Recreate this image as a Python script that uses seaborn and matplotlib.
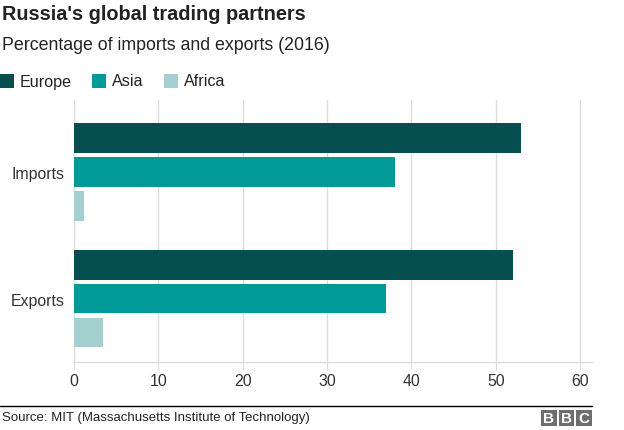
# Russia's global trading partners - BBC style horizontal grouped bars

import pandas as pd
import matplotlib.pyplot as plt
import seaborn as sns
from matplotlib.patches import Rectangle

# Data
flows = ["Imports", "Exports"]
regions = ["Europe", "Asia", "Africa"]
europe = [53, 52]
asia = [38, 37]
africa = [1.2, 3.4]
x_ticks = [0, 10, 20, 30, 40, 50, 60]

colors = {"Europe": "#064f51", "Asia": "#009b98", "Africa": "#a3cfcf"}

df = pd.DataFrame({
    "flow": flows * 3,
    "region": ["Europe"] * 2 + ["Asia"] * 2 + ["Africa"] * 2,
    "value": europe + asia + africa,
})

sns.set_style("white")
plt.rcParams["font.family"] = ["Liberation Sans", "DejaVu Sans"]

fig = plt.figure(figsize=(6.24, 4.31), dpi=100)
W, H = 624, 431
ax = fig.add_axes([74 / W, 1 - 363 / H, (592 - 74) / W, (363 - 101) / H])

sns.barplot(data=df, y="flow", x="value", hue="region", hue_order=regions,
            order=flows, palette=colors, orient="h", width=0.8, gap=0.12,
            linewidth=0, saturation=1, legend=False, ax=ax)

ax.set_xlim(0, 61.4)
ax.set_ylim(1.5, -0.567)
ax.set_xticks(x_ticks)
ax.set_xlabel("")
ax.set_ylabel("")
ax.xaxis.grid(True, color="#dddddd", lw=1)
ax.set_axisbelow(True)
for s in ["left", "right", "top"]:
    ax.spines[s].set_visible(False)
ax.spines["bottom"].set_color("#dddddd")
ax.spines["bottom"].set_linewidth(1)
ax.tick_params(axis="x", length=6, color="#dddddd", labelsize=11.4,
               labelcolor="#333333", pad=2, bottom=True)
ax.tick_params(axis="y", length=0, labelsize=11.4, labelcolor="#333333", pad=7)

# Title and subtitle
fig.text(2 / W, 1 - 5 / H, "Russia's global trading partners", fontsize=14.3,
         fontweight="bold", color="#222222", va="top", ha="left")
fig.text(2 / W, 1 - 37 / H, "Percentage of imports and exports (2016)",
         fontsize=12.8, color="#222222", va="top", ha="left")

# Legend
for px, name in zip([0, 92, 164], regions):
    fig.add_artist(Rectangle((px / W, 1 - 89 / H), 14 / W, 14 / H,
                             transform=fig.transFigure, color=colors[name], lw=0))
    fig.text((px + 20) / W, 1 - 82 / H, name, fontsize=11.6, color="#222222",
             va="center", ha="left")

# Footer
fig.add_artist(plt.Line2D([0, 592 / W], [1 - 406.5 / H] * 2,
                          transform=fig.transFigure, color="black", lw=1))
fig.text(2 / W, 1 - 418 / H, "Source: MIT (Massachusetts Institute of Technology)",
         fontsize=9.5, color="#222222", va="center", ha="left")
for i, ch in enumerate("BBC"):
    bx = 541 + i * 17.5
    fig.add_artist(Rectangle((bx / W, 1 - 427 / H), 15.5 / W, 16 / H,
                             transform=fig.transFigure, color="#6e6e6e", lw=0))
    fig.text((bx + 7.75) / W, 1 - 419 / H, ch, fontsize=11, fontweight="bold",
             color="white", va="center", ha="center")

fig.savefig("out.png", dpi=100)
